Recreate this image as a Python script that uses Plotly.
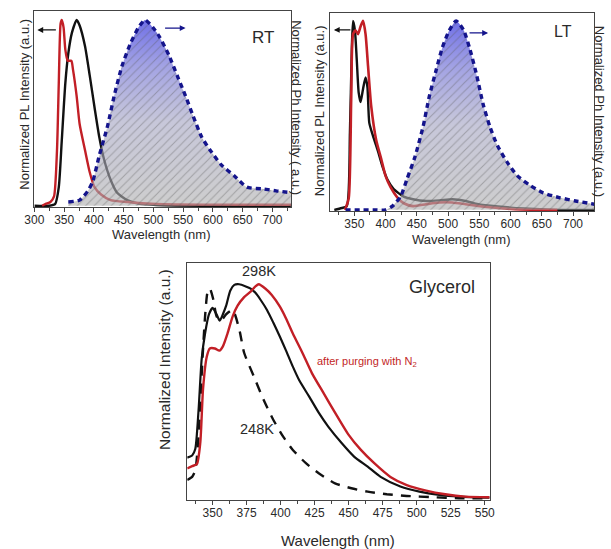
import plotly.graph_objects as go

# ---------------- RT panel data ----------------
rt_pl_black_x = [300, 324.6, 335, 341, 346, 352, 357, 363, 371, 376, 385, 393, 401, 409, 417, 428, 439, 456, 477, 505, 600, 731]
rt_pl_black_y = [0, 0, 0.01, 0.10, 0.35, 0.66, 0.82, 0.93, 1.0, 0.97, 0.86, 0.70, 0.53, 0.37, 0.25, 0.14, 0.07, 0.03, 0.01, 0.004, 0.0, 0.0]
rt_pl_red_x = [313, 319, 327, 333, 338, 341, 344, 346, 349, 352, 356, 362, 365, 371, 376, 385, 393, 401, 412, 428, 456, 505, 600, 731]
rt_pl_red_y = [0, 0.01, 0.02, 0.05, 0.30, 0.66, 0.98, 1.0, 0.96, 0.84, 0.78, 0.78, 0.73, 0.59, 0.44, 0.30, 0.18, 0.10, 0.06, 0.03, 0.02, 0.01, 0.006, 0.005]
rt_ph_x = [357, 376, 390, 398, 409, 423, 434, 447, 461, 475, 486, 499, 510, 526, 540, 554, 567, 581, 595, 614, 636, 657, 685, 706, 731]
rt_ph_y = [0.02, 0.03, 0.08, 0.13, 0.27, 0.43, 0.59, 0.75, 0.87, 0.96, 1.0, 0.96, 0.91, 0.81, 0.70, 0.59, 0.48, 0.37, 0.30, 0.22, 0.16, 0.10, 0.09, 0.08, 0.07]

# ---------------- LT panel data ----------------
lt_pl_black_x = [318, 330, 338, 343, 346, 348, 351, 354, 357, 360, 364, 368, 371, 374, 380, 387, 395, 403, 413, 429, 444, 465, 486, 507, 528, 548, 580, 621, 673, 734]
lt_pl_black_y = [0, 0.01, 0.02, 0.41, 0.85, 1.0, 0.95, 0.79, 0.62, 0.57, 0.64, 0.70, 0.65, 0.46, 0.39, 0.32, 0.23, 0.16, 0.11, 0.07, 0.056, 0.047, 0.05, 0.056, 0.047, 0.03, 0.018, 0.007, 0.0, 0.0]
lt_pl_red_x = [335, 341, 345, 348, 352, 356, 360, 364, 368, 372, 377, 385, 393, 400, 408, 419, 429, 444, 465, 486, 507, 528, 554, 590, 618, 675]
lt_pl_red_y = [0, 0.06, 0.58, 0.93, 0.95, 0.93, 0.97, 1.0, 0.93, 0.76, 0.55, 0.37, 0.27, 0.18, 0.12, 0.065, 0.035, 0.02, 0.03, 0.039, 0.039, 0.03, 0.018, 0.007, 0.002, 0.0]
lt_ph_x = [336, 360, 380, 400, 411, 424, 434, 447, 460, 470, 481, 491, 502, 513, 525, 535, 546, 556, 567, 579, 595, 611, 631, 652, 678, 704, 734]
lt_ph_y = [0, 0, 0, 0.0, 0.02, 0.07, 0.16, 0.28, 0.44, 0.60, 0.74, 0.86, 0.95, 1.0, 0.95, 0.85, 0.71, 0.56, 0.44, 0.34, 0.25, 0.18, 0.13, 0.09, 0.065, 0.047, 0.03]

# ---------------- Glycerol panel data ----------------
gl_298_x = [331.4, 335, 337.3, 339.7, 342, 344.5, 347.4, 350, 352.9, 355.3, 357.6, 360, 363, 366, 369.6, 374.4, 378, 381.5, 385, 390, 394.7, 399.5, 404, 409, 413.8, 421, 428, 435, 445, 454, 464, 473.5, 488, 502, 516.5, 531, 553.6]
gl_298_y = [0.19, 0.20, 0.23, 0.41, 0.65, 0.77, 0.86, 0.89, 0.86, 0.83, 0.86, 0.90, 0.97, 0.997, 1.0, 0.99, 0.98, 0.96, 0.93, 0.88, 0.82, 0.755, 0.69, 0.615, 0.55, 0.475, 0.40, 0.335, 0.257, 0.195, 0.148, 0.10, 0.055, 0.031, 0.016, 0.008, 0.003]
gl_n2_x = [331.4, 335, 338.5, 341, 343, 345.7, 348, 351.7, 355, 357.6, 361, 364.8, 368.4, 373.2, 378, 381.5, 384, 388.7, 393.5, 399.5, 404, 409, 416, 423, 431.7, 440, 449.6, 459, 468.8, 480.7, 492.7, 507, 521, 535.7, 553.6]
gl_n2_y = [0.14, 0.15, 0.16, 0.26, 0.51, 0.66, 0.70, 0.70, 0.69, 0.71, 0.77, 0.85, 0.90, 0.94, 0.966, 0.99, 1.0, 0.98, 0.95, 0.895, 0.84, 0.77, 0.68, 0.585, 0.49, 0.40, 0.30, 0.226, 0.164, 0.10, 0.062, 0.036, 0.019, 0.008, 0.005]
gl_248_x = [331.4, 335, 337.3, 339.7, 342.6, 344.5, 346.4, 348, 350.5, 353, 356, 360, 364.8, 369.6, 373.2, 380.3, 387.5, 394.7, 401.9, 409, 418.6, 428, 440, 452, 464, 478, 492.7, 511.8, 531, 553.6]
gl_248_y = [0.086, 0.10, 0.13, 0.29, 0.65, 0.85, 0.966, 0.98, 0.93, 0.85, 0.83, 0.86, 0.88, 0.79, 0.68, 0.57, 0.46, 0.366, 0.288, 0.226, 0.164, 0.117, 0.07, 0.047, 0.031, 0.019, 0.011, 0.005, 0.0, 0.0]

RED = "#c21f26"
BLACK = "#111111"
NAVY = "#14148c"
TXT = "#2a2a2a"
FRAME = "#444444"
FONT = "Liberation Sans, Arial, sans-serif"

# blue-to-grey vertical gradient under the phosphorescence curves
ph_gradient = dict(
    type="vertical",
    colorscale=[[0.0, "rgba(175,175,175,0.62)"],
                [0.45, "rgba(165,165,195,0.62)"],
                [0.75, "rgba(120,120,215,0.68)"],
                [1.0, "rgba(70,70,225,0.78)"]],
)
hatch = dict(shape="/", fgcolor="rgba(90,90,90,0.75)", bgcolor="rgba(0,0,0,0)",
             size=6, solidity=0.18, fillmode="overlay")

fig = go.Figure()


def pl_line(x, y, color, xa, ya, width=2.4, dash="solid"):
    fig.add_trace(go.Scatter(x=x, y=y, mode="lines", xaxis=xa, yaxis=ya,
                             line=dict(color=color, width=width, dash=dash,
                                       shape="spline", smoothing=0.6),
                             showlegend=False, hoverinfo="skip"))


def ph_area(x, y, xa, ya):
    fig.add_trace(go.Scatter(x=x, y=y, mode="lines", xaxis=xa, yaxis=ya,
                             fill="tozeroy", fillgradient=ph_gradient,
                             line=dict(width=0, shape="spline", smoothing=0.6),
                             showlegend=False, hoverinfo="skip"))
    fig.add_trace(go.Scatter(x=x, y=y, mode="lines", xaxis=xa, yaxis=ya,
                             fill="tozeroy", fillcolor="rgba(0,0,0,0)",
                             fillpattern=hatch,
                             line=dict(color=NAVY, width=3.4, dash="5px,4px",
                                       shape="spline", smoothing=0.6),
                             showlegend=False, hoverinfo="skip"))


# RT
pl_line(rt_pl_black_x, rt_pl_black_y, BLACK, "x", "y")
pl_line(rt_pl_red_x, rt_pl_red_y, RED, "x", "y")
ph_area(rt_ph_x, rt_ph_y, "x", "y2")

# LT
pl_line(lt_pl_black_x, lt_pl_black_y, BLACK, "x2", "y3")
pl_line(lt_pl_red_x, lt_pl_red_y, RED, "x2", "y3", width=2.6)
ph_area(lt_ph_x, lt_ph_y, "x2", "y4")

# Glycerol
pl_line(gl_248_x, gl_248_y, BLACK, "x3", "y5", width=2.4, dash="10px,8px")
pl_line(gl_298_x, gl_298_y, BLACK, "x3", "y5", width=2.2)
pl_line(gl_n2_x, gl_n2_y, RED, "x3", "y5", width=2.4)

tickfont = dict(family=FONT, size=12, color=TXT)


def xaxis(domain, rng, tick0, dtick, minor, anchor):
    return dict(domain=domain, range=rng, anchor=anchor, tick0=tick0, dtick=dtick,
                ticks="outside", ticklen=4, tickcolor=FRAME, tickwidth=1,
                ticklabelstandoff=-2,
                minor=dict(ticks="outside", ticklen=2.5, dtick=minor, tick0=tick0,
                           tickcolor=FRAME),
                showline=True, linecolor=FRAME, linewidth=1, mirror=True,
                showgrid=False, zeroline=False, tickfont=tickfont, fixedrange=True)


def yaxis(domain, rng, anchor, overlay=None):
    d = dict(domain=domain, range=rng, anchor=anchor, showticklabels=False,
             ticks="", showgrid=False, zeroline=False, fixedrange=True)
    if overlay:
        d.update(overlaying=overlay, side="right", showline=False)
    else:
        d.update(showline=True, linecolor=FRAME, linewidth=1, mirror=True)
    return d


fig.update_layout(
    width=611, height=549,
    margin=dict(l=0, r=0, t=0, b=0),
    paper_bgcolor="white", plot_bgcolor="white",
    font=dict(family=FONT, color=TXT),
    xaxis=xaxis([25 / 611, 288 / 611], [300, 731], 300, 50, 25, "y"),
    yaxis=yaxis([1 - 207 / 549, 1 - 11 / 549], [-0.007, 1.048], "x"),
    yaxis2=yaxis([1 - 207 / 549, 1 - 11 / 549], [-0.007, 1.048], "x", overlay="y"),
    xaxis2=xaxis([328.3 / 611, 599 / 611], [311.5, 734], 350, 50, 25, "y3"),
    yaxis3=yaxis([1 - 211 / 549, 1 - 13.3 / 549], [-0.006, 1.04], "x2"),
    yaxis4=yaxis([1 - 211 / 549, 1 - 13.3 / 549], [-0.006, 1.04], "x2", overlay="y3"),
    xaxis3=xaxis([181.7 / 611, 491.7 / 611], [331.4, 553.6], 350, 25, 12.5, "y5"),
    yaxis5=yaxis([1 - 500 / 549, 1 - 263.3 / 549], [-0.008, 1.098], "x3"),
)

ann = []


def text(x, y, s, size, xref="paper", yref="paper", angle=0, color=TXT):
    ann.append(dict(x=x, y=y, xref=xref, yref=yref, text=s, showarrow=False,
                    textangle=angle, xanchor="center", yanchor="middle",
                    font=dict(family=FONT, size=size, color=color)))


def arrow(x, y, ax, xref, yref, color):
    ann.append(dict(x=x, y=y, xref=xref, yref=yref, ax=ax, ay=0, text="",
                    showarrow=True, arrowhead=2, arrowsize=0.9, arrowwidth=1.3,
                    arrowcolor=color))


# axis titles
text(155 / 611, 1 - 234.5 / 549, "Wavelength (nm)", 13)
text(463 / 611, 1 - 239.5 / 549, "Wavelength (nm)", 13)
text(336 / 611, 1 - 540 / 549, "Wavelength (nm)", 15)
text(14 / 611, 1 - 104 / 549, "Normalized PL Intensity (a.u.)", 13, angle=-90)
text(294 / 611, 1 - 108 / 549, "Normalized Ph Intensity ( a.u.)", 13, angle=90)
text(317 / 611, 1 - 111 / 549, "Normalized PL Intensity (a.u.)", 13, angle=-90)
text(605 / 611, 1 - 111 / 549, "Normalized Ph Intensity (a.u.)", 13, angle=90)
text(158 / 611, 1 - 360 / 549, "Normalized Intensity (a.u.)", 15.5, angle=-90)

# panel labels
text(684, 0.908, "RT", 17, "x", "y")
text(684, 0.946, "LT", 16, "x2", "y3")
text(518.7, 0.987, "Glycerol", 18, "x3", "y5")
text(383.9, 1.062, "298K", 14.5, "x3", "y5")
text(382.5, 0.324, "248K", 14.5, "x3", "y5")
text(463.6, 0.637, "after purging with N<sub>2</sub>", 11, "x3", "y5", color=RED)

# arrows pointing to the axis each curve family belongs to
arrow(305, 0.946, 20, "x", "y", BLACK)
arrow(554, 0.956, -22, "x", "y", NAVY)
arrow(317.3, 0.952, 18, "x2", "y3", BLACK)
arrow(564, 0.936, -20, "x2", "y3", NAVY)

fig.update_layout(annotations=ann)

fig.write_html("out.html")
